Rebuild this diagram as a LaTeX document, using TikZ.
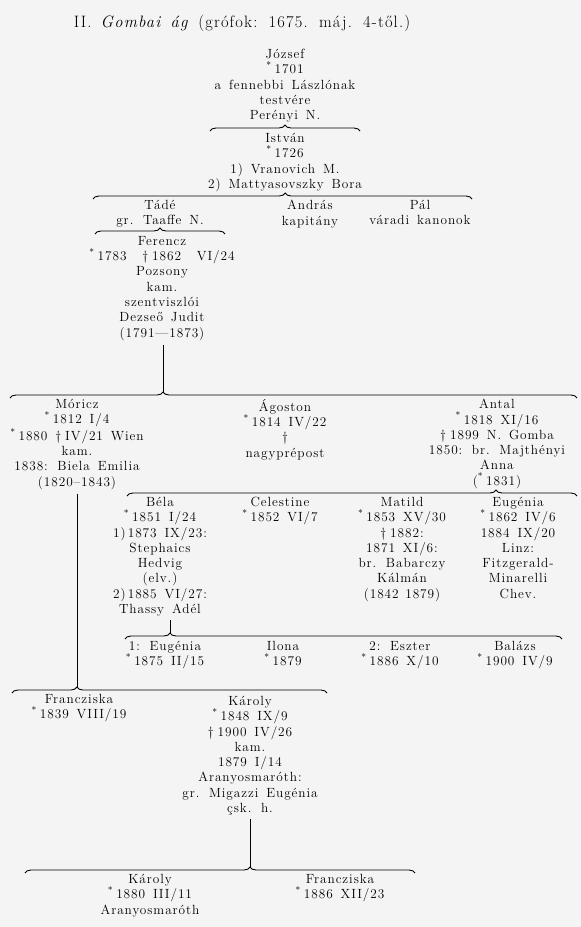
\documentclass[tikz,border=0pt]{standalone}
\usepackage{fontspec}
\setmainfont{Latin Modern Roman}[LetterSpace=7,WordSpace=1.5]
\usepackage{tikz}
\usetikzlibrary{decorations.pathreplacing}
\definecolor{papir}{RGB}{244,244,244}
\newcommand{\szul}{\textsuperscript{*}\kern3pt}
\newcommand{\hal}{\textdagger\kern4pt}

\begin{document}
\begin{tikzpicture}[x=1pt,y=-1pt,
  szemely/.style={anchor=north,align=center,inner sep=0pt,font=\fontsize{13.3}{15.3}\selectfont},
  ag/.style={decorate,decoration={brace,amplitude=6pt,aspect=#1},line width=0.9pt},
  tor/.style={line width=1pt,shorten <=4pt}]
  % paper
  \fill[papir] (0,0) rectangle (581,927);
  \useasboundingbox (0,0) rectangle (581,927);
  \node[inner sep=0pt,font=\fontsize{16.5}{18}\selectfont] (cim) at (242,23)
    {II. \textit{Gombai ág} (grófok: 1675. máj. 4-től.)};
  % first generations
  \node[szemely] (jozsef) at (285,49) {József\\\szul1701\\a fennebbi Lászlónak\\testvére\\Perényi N.};
  \coordinate (b1l) at (210,131); \coordinate (b1r) at (360,131);
  \draw[ag=0.5] (b1l) -- (b1r);
  \node[szemely] (istvan) at (285,133) {István\\\szul1726\\1) Vranovich M.\\2) Mattyasovszky Bora};
  \coordinate (b2l) at (93,199); \coordinate (b2r) at (472,199);
  \draw[ag=0.507] (b2l) -- (b2r);
  \node[szemely] (tade) at (160,200) {Tádé\\gr. Taaffe N.};
  \node[szemely] (andras) at (310,200) {András\\kapitány};
  \node[szemely] (pal) at (420,200) {Pál\\váradi kanonok};
  \coordinate (b3l) at (95,234); \coordinate (b3r) at (225,234);
  \draw[ag=0.5] (b3l) -- (b3r);
  \node[szemely] (ferencz) at (162,236) {Ferencz\\\szul1783 \ \hal1862 \ VI/24\\Pozsony\\kam.\\szentviszlói\\Dezseő Judit\\(1791—1873)};
  % children of Ferencz
  \coordinate (b4l) at (10,398); \coordinate (b4r) at (577,398);
  \coordinate (b4tip) at (163,392);
  \draw[tor] (ferencz.south -| b4tip) -- (b4tip);
  \draw[ag=0.27] (b4l) -- (b4r);
  \node[szemely] (moricz) at (77,399) {Móricz\\\szul1812 I/4\\\szul1880 \hal IV/21 Wien\\kam.\\1838: Biela Emilia\\(1820–1843)};
  \node[szemely] (agoston) at (285,399) {Ágoston\\\szul1814 IV/22\\\textdagger\\nagyprépost};
  \node[szemely] (antal) at (497,399) {Antal\\\szul1818 XI/16\\\hal1899 N. Gomba\\1850: br. Majthényi\\Anna\\(\szul1831)};
  % children of Antal
  \coordinate (b5l) at (127,496); \coordinate (b5r) at (577,496);
  \draw[ag=0.82] (b5l) -- (b5r);
  \node[szemely] (bela) at (160,497) {Béla\\\szul1851 I/24\\1)\,1873 IX/23:\\Stephaics\\Hedvig\\(elv.)\\2)\,1885 VI/27:\\Thassy Adél};
  \node[szemely] (celestine) at (280,497) {Celestine\\\szul1852 VI/7};
  \node[szemely] (matild) at (402,497) {Matild\\\szul1853 XV/30\\\hal1882:\\1871 XI/6:\\br. Babarczy\\Kálmán\\(1842\enspace1879)};
  \node[szemely] (eugenia) at (518,497) {Eugénia\\\szul1862 IV/6\\1884 IX/20\\Linz:\\Fitzgerald-\\Minarelli\\Chev.};
  % children of Bela
  \coordinate (b6l) at (125,639); \coordinate (b6r) at (562,639);
  \coordinate (b6tip) at (170,633);
  \draw[tor] (bela.south -| b6tip) -- (b6tip);
  \draw[ag=0.103] (b6l) -- (b6r);
  \node[szemely] (eugenia1) at (165,641) {1: Eugénia\\\szul1875 II/15};
  \node[szemely] (ilona) at (283,641) {Ilona\\\szul1879};
  \node[szemely] (eszter) at (400,641) {2: Eszter\\\szul1886 X/10};
  \node[szemely] (balazs) at (515,641) {Balázs\\\szul1900 IV/9};
  % children of Moricz
  \coordinate (b7l) at (12,693); \coordinate (b7r) at (327,693);
  \coordinate (b7tip) at (77,687);
  \draw[tor] (moricz.south -| b7tip) -- (b7tip);
  \draw[ag=0.206] (b7l) -- (b7r);
  \node[szemely] (franciska) at (79,694) {Francziska\\\szul1839 VIII/19};
  \node[szemely] (karoly) at (250,696) {Károly\\\szul1848 IX/9\\\hal1900 IV/26\\kam.\\1879 I/14\\Aranyosmaróth:\\gr. Migazzi Eugénia\\çsk. h.};
  % children of Karoly
  \coordinate (b8l) at (25,873); \coordinate (b8r) at (415,873);
  \coordinate (b8tip) at (250,867);
  \draw[tor] (karoly.south -| b8tip) -- (b8tip);
  \draw[ag=0.577] (b8l) -- (b8r);
  \node[szemely] (karoly2) at (150,874) {Károly\\\szul1880 III/11\\Aranyosmaróth};
  \node[szemely] (franciska2) at (340,874) {Francziska\\\szul1886 XII/23};
\end{tikzpicture}
\end{document}
